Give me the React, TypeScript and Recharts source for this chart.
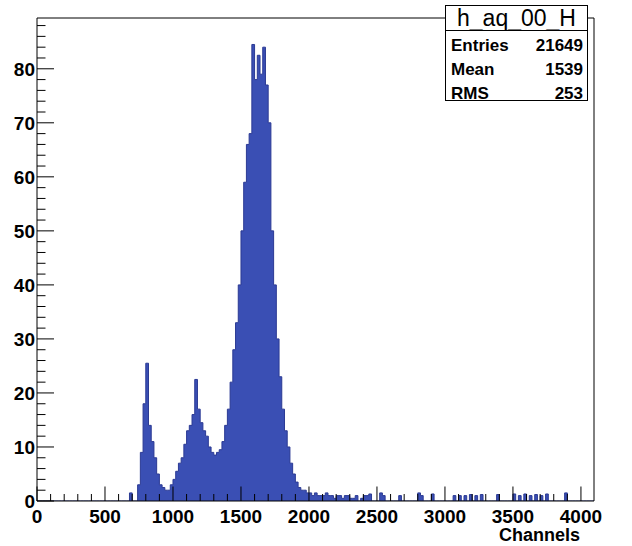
import { ComposedChart, Area, XAxis, YAxis, ReferenceArea } from 'recharts'

const FONT = '"Liberation Sans", Arial, Helvetica, sans-serif'

const BIN_WIDTH = 20
const X_MAX = 4096
const Y_MAX = 89.4

// 20-channel bins starting at channel 680
const PEAK_FIRST_BIN = 680
const peakCounts = [
  1.5, 0, 0, 3, 9, 18, 25.5, 14, 11, 8, // 680..860
  5, 3, 2.5, 2, 2, 3, 4, 5.5, 7, 8, // 880..1060
  10.5, 13, 14, 16, 22.5, 17, 14.5, 13, 12, 10, // 1080..1260
  9, 8.5, 9, 9.5, 11, 14, 17, 22, 28, 33, // 1280..1460
  40, 50, 59, 66, 68, 84.5, 78, 82.5, 79, 84, // 1480..1660
  77, 70, 50, 40, 30, 23, 17, 13, 10, 7, // 1680..1860
  5, 3.5, 2.5, 2, 2, 1.5, 1.5, 1, 1.5, 1, // 1880..2060
  1, 1, 1.5, 1, 1, 0.5, 1, 1, 0.5, 1, // 2080..2260
  1, 0.5, 0.5, 1, 0, 0.5, 1, // 2280..2400
]

// scattered single counts in the tail
const tailChannels = [2420, 2440, 2520, 2540, 2660, 2800, 2820, 2900, 3060, 3100, 3140, 3180, 3220, 3260, 3380, 3500, 3540, 3580, 3620, 3660, 3700, 3740, 3880]
const tailCounts = [1, 1.3, 1.5, 1, 1, 1.5, 1, 1.3, 1, 1, 1, 1.2, 1, 1.2, 1.2, 1.3, 1, 1.3, 1, 1.2, 1, 1.3, 1.5]

const xTicks = [
  0, 100, 200, 300, 400, 500, 600, 700, 800, 900, 1000, 1100, 1200, 1300, 1400, 1500,
  1600, 1700, 1800, 1900, 2000, 2100, 2200, 2300, 2400, 2500, 2600, 2700, 2800, 2900,
  3000, 3100, 3200, 3300, 3400, 3500, 3600, 3700, 3800, 3900, 4000,
]
const yTicks = [
  0, 2, 4, 6, 8, 10, 12, 14, 16, 18, 20, 22, 24, 26, 28, 30, 32, 34, 36, 38, 40, 42, 44,
  46, 48, 50, 52, 54, 56, 58, 60, 62, 64, 66, 68, 70, 72, 74, 76, 78, 80, 82, 84, 86, 88,
]

const stats = [
  { label: 'Entries', value: '21649' },
  { label: 'Mean', value: '1539' },
  { label: 'RMS', value: '253' },
]

const counts = new Map<number, number>()
peakCounts.forEach((n, i) => counts.set(PEAK_FIRST_BIN + i * BIN_WIDTH, n))
tailChannels.forEach((c, i) => counts.set(c, tailCounts[i]))

const rows: { ch: number; n: number }[] = []
for (let ch = 0; ch < X_MAX; ch += BIN_WIDTH) rows.push({ ch, n: counts.get(ch) ?? 0 })
rows.push({ ch: X_MAX, n: 0 })

function XTick(props: any) {
  const { x, y, payload } = props
  const major = payload.value % 500 === 0
  return (
    <g>
      <line x1={x} x2={x} y1={y} y2={y - (major ? 14.5 : 7)} stroke="#000" strokeWidth={1} />
      {major && (
        <text x={x} y={y + 22} textAnchor="middle" fontFamily={FONT} fontWeight="bold" fontSize={19} fill="#000">
          {payload.value}
        </text>
      )}
    </g>
  )
}

function YTick(props: any) {
  const { x, y, payload } = props
  const major = payload.value % 10 === 0
  return (
    <g>
      <line x1={x} x2={x + (major ? 17 : 8.5)} y1={y} y2={y} stroke="#000" strokeWidth={1} />
      {major && (
        <text x={x - 2} y={y + 7} textAnchor="end" fontFamily={FONT} fontWeight="bold" fontSize={19} fill="#000">
          {payload.value}
        </text>
      )}
    </g>
  )
}

export default function App() {
  return (
    <div style={{ position: 'relative', width: 632, height: 546, background: '#fff', fontFamily: FONT }}>
      <style>{'body{margin:0}'}</style>
      <ComposedChart width={632} height={546} data={rows} margin={{ top: 18, right: 38, left: 0, bottom: 0 }}>
        <XAxis
          dataKey="ch"
          type="number"
          domain={[0, X_MAX]}
          ticks={xTicks}
          interval={0}
          axisLine={false}
          tickLine={false}
          tickSize={0}
          tickMargin={0}
          height={45}
          tick={(p: any) => <XTick {...p} />}
        />
        <YAxis
          type="number"
          domain={[0, Y_MAX]}
          ticks={yTicks}
          interval={0}
          allowDataOverflow
          axisLine={false}
          tickLine={false}
          tickSize={0}
          tickMargin={0}
          width={37}
          tick={(p: any) => <YTick {...p} />}
        />
        <Area
          type="stepAfter"
          dataKey="n"
          fill="#3a4fb4"
          fillOpacity={1}
          stroke="#2b3a94"
          strokeWidth={1}
          baseValue={0}
          dot={false}
          activeDot={false}
          isAnimationActive={false}
        />
        <ReferenceArea x1={0} x2={X_MAX} y1={0} y2={Y_MAX} fill="none" stroke="#000" strokeWidth={1} />
      </ComposedChart>

      <div
        style={{
          position: 'absolute', left: 445, top: 5, width: 143, height: 96,
          border: '1px solid #000', background: '#fff', boxSizing: 'border-box',
        }}
      >
        <div style={{ height: 24, borderBottom: '1px solid #000', textAlign: 'center', fontSize: 23, lineHeight: '24px' }}>
          h_aq_00_H
        </div>
        <div style={{ paddingTop: 3 }}>
          {stats.map((s) => (
            <div key={s.label} style={{ display: 'flex', justifyContent: 'space-between', height: 24, lineHeight: '24px', padding: '0 4px 0 5px', fontSize: 17, fontWeight: 'bold' }}>
              <span>{s.label}</span>
              <span>{s.value}</span>
            </div>
          ))}
        </div>
      </div>

      <div style={{ position: 'absolute', right: 52, top: 525, fontSize: 18, fontWeight: 'bold' }}>Channels</div>
    </div>
  )
}
